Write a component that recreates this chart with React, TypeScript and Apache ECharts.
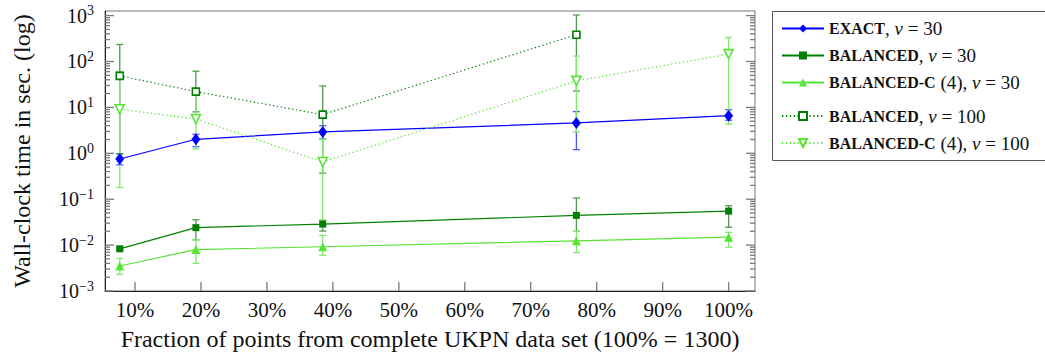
import React, { useEffect, useRef } from "react";
import * as echarts from "echarts";

// Fraction of points (% of 1300)
const xPct = [7.69, 19.23, 38.46, 76.92, 100];
const xTicks = [10, 20, 30, 40, 50, 60, 70, 80, 90, 100];

// EXACT, v = 30
const exact30 = [0.75, 2.02, 2.92, 4.58, 6.6];
const exact30Lo = [0.56, 1.39, 2.05, 1.2, 5.25];
const exact30Hi = [0.97, 2.6, 4.0, 8.1, 8.9];

// BALANCED, v = 30
const bal30 = [0.0083, 0.024, 0.0287, 0.0444, 0.055];
const bal30Lo = [0.0078, 0.013, 0.0202, 0.0199, 0.0245];
const bal30Hi = [0.0089, 0.0356, 0.0346, 0.106, 0.072];

// BALANCED-C (4), v = 30
const balc30 = [0.0035, 0.008, 0.0092, 0.0124, 0.0149];
const balc30Lo = [0.0023, 0.004, 0.006, 0.0069, 0.009];
const balc30Hi = [0.0051, 0.013, 0.0163, 0.0199, 0.019];

// BALANCED, v = 100 (no value at 100%)
const bal100 = [48.6, 22.1, 6.96, 383];
const bal100Lo = [0.97, 8.0, 0.37, 22.8];
const bal100Hi = [235, 61.5, 29.3, 1030];

// BALANCED-C (4), v = 100
const balc100 = [9.1, 5.6, 0.646, 37.8, 145];
const balc100Lo = [0.18, 1.24, 0.035, 2.9, 4.3];
const balc100Hi = [60, 20, 2.0, 131, 333];

// Y axis decades (log scale)
const yDecades = [-3, -2, -1, 0, 1, 2, 3];
const yMinExp = -3;
const yMaxExp = 3.1;

const BLUE = "#0000ff";
const DGREEN = "#008000";
const LGREEN = "#55e535";
const TICK = "#7a7a7a";

const FONT = "Liberation Serif";

const legendLabels: Record<string, [string, string]> = {
  exact30: ["EXACT", "30"],
  bal30: ["BALANCED", "30"],
  balc30: ["BALANCED-C", "30"],
  bal100: ["BALANCED", "100"],
  balc100: ["BALANCED-C", "100"],
};

function legendFormatter(name: string) {
  const [sc, v] = legendLabels[name];
  const four = sc === "BALANCED-C" ? "{n| (4)}" : "";
  return `{sc|${sc}}${four}{n|, }{i|v}{n| = ${v}}`;
}

function errSeries(name: string, vals: number[], lo: number[], hi: number[], color: string) {
  const data = vals.map((_, i) => [xPct[i], lo[i], hi[i]]);
  return {
    type: "custom",
    name,
    data,
    encode: { x: 0, y: [1, 2] },
    silent: true,
    clip: false,
    renderItem: (_params: any, api: any) => {
      const x = api.value(0);
      const pLo = api.coord([x, api.value(1)]);
      const pHi = api.coord([x, api.value(2)]);
      const w = 3.5;
      const st = { stroke: color, lineWidth: 1.3 };
      return {
        type: "group",
        children: [
          { type: "line", shape: { x1: pLo[0], y1: pLo[1], x2: pHi[0], y2: pHi[1] }, style: st },
          { type: "line", shape: { x1: pLo[0] - w, y1: pLo[1], x2: pLo[0] + w, y2: pLo[1] }, style: st },
          { type: "line", shape: { x1: pHi[0] - w, y1: pHi[1], x2: pHi[0] + w, y2: pHi[1] }, style: st },
        ],
      };
    },
  };
}

function lineSeries(name: string, vals: number[], color: string, opts: any) {
  return {
    type: "line",
    name,
    data: vals.map((v, i) => [xPct[i], v]),
    lineStyle: { color, width: 1.2, type: opts.dash ? [1.3, 2.6] : "solid" },
    itemStyle: opts.open
      ? { color: "#ffffff", borderColor: color, borderWidth: 1.6 }
      : { color, borderColor: color, borderWidth: 0 },
    symbol: opts.symbol,
    symbolSize: opts.size,
    symbolRotate: opts.rotate || 0,
    showAllSymbol: true,
    z: 3,
  };
}

// y tick values: [value, tick length]
const yTickData: number[][] = [];
for (const e of yDecades) {
  yTickData.push([Math.pow(10, e), 9]);
  for (let k = 2; k <= 9; k++) {
    const v = k * Math.pow(10, e);
    if (Math.log10(v) < yMaxExp) yTickData.push([v, 5]);
  }
}

function supLabel(val: number) {
  const l = Math.log10(val);
  const e = Math.round(l);
  if (Math.abs(l - e) > 1e-6) return "";
  const es = e < 0 ? "\u2212" + Math.abs(e) : String(e);
  return `{b|10}{s|${es}}`;
}

export default function App() {
  const ref = useRef<HTMLDivElement>(null);
  useEffect(() => {
    const chart = echarts.init(ref.current!, null, { renderer: "svg" });
    const legendCommon = {
      orient: "vertical",
      left: 781,
      padding: 0,
      itemWidth: 42,
      itemHeight: 10,
      itemGap: 8,
      selectedMode: false,
      formatter: legendFormatter,
      textStyle: {
        fontFamily: FONT,
        color: "#111",
        rich: {
          sc: { fontFamily: FONT, fontSize: 16, fontWeight: "bold", lineHeight: 20, color: "#111" },
          n: { fontFamily: FONT, fontSize: 19, lineHeight: 20, color: "#111" },
          i: { fontFamily: FONT, fontSize: 19, fontStyle: "italic", lineHeight: 20, color: "#111" },
        },
      },
    };
    const yMinVal = Math.pow(10, yMinExp);
    chart.setOption({
      animation: false,
      textStyle: { fontFamily: FONT },
      grid: {
        left: 105,
        right: 290,
        top: 11,
        bottom: 67,
        show: true,
        borderColor: "#777",
        borderWidth: 1,
        containLabel: false,
        outerBoundsMode: "none",
      },
      xAxis: {
        type: "value",
        min: 5.45,
        max: 104.0,
        name: "Fraction of points from complete UKPN data set (100% = 1300)",
        nameLocation: "middle",
        nameGap: 36,
        nameTextStyle: { fontFamily: FONT, fontSize: 24, color: "#111" },
        axisLine: { show: true, onZero: false, lineStyle: { color: "#222", width: 1 } },
        axisTick: { show: false },
        axisLabel: { customValues: xTicks, formatter: (v: number) => `${v}%`, fontFamily: FONT, fontSize: 21, color: "#111", margin: 8 },
        splitLine: { show: false },
      },
      yAxis: {
        type: "log",
        position: "left",
        min: yMinVal,
        max: Math.pow(10, yMaxExp),
        logBase: 10,
        name: "Wall-clock time in sec. (log)",
        nameLocation: "middle",
        nameRotate: 90,
        nameGap: 71,
        nameTextStyle: { fontFamily: FONT, fontSize: 24, color: "#111" },
        axisLine: { show: true, onZero: false, lineStyle: { color: "#222", width: 1 } },
        axisTick: { show: false },
        axisLabel: {
          formatter: supLabel,
          margin: 11,
          rich: {
            b: { fontFamily: FONT, fontSize: 20, lineHeight: 24, color: "#111" },
            s: { fontFamily: FONT, fontSize: 14, lineHeight: 14, verticalAlign: "top", color: "#111" },
          },
        },
        splitLine: { show: false },
      },
      legend: [
        { ...legendCommon, top: 19, data: ["exact30", "bal30", "balc30"] },
        { ...legendCommon, top: 106.5, data: ["bal100", "balc100"] },
      ],
      graphic: [
        {
          type: "rect",
          shape: { x: 772.5, y: 11.5, width: 300, height: 149 },
          style: { fill: "none", stroke: "#555", lineWidth: 1 },
          silent: true,
        },
      ],
      series: [
        {
          type: "custom",
          name: "xticks",
          silent: true,
          data: xTicks.map((t) => [t, yMinVal]),
          encode: { x: 0, y: 1 },
          z: 1,
          clip: false,
          renderItem: (params: any, api: any) => {
            const cs = params.coordSys;
            const p = api.coord([api.value(0), api.value(1)]);
            const yb = cs.y + cs.height;
            return { type: "line", shape: { x1: p[0], y1: yb, x2: p[0], y2: yb - 9 }, style: { stroke: TICK, lineWidth: 1.3 } };
          },
        },
        {
          type: "custom",
          name: "yticks",
          silent: true,
          data: yTickData.map(([v, len]) => [xTicks[0], v, len]),
          encode: { x: 0, y: 1 },
          z: 1,
          clip: false,
          renderItem: (params: any, api: any) => {
            const cs = params.coordSys;
            const p = api.coord([api.value(0), api.value(1)]);
            const len = api.value(2);
            const st = { stroke: TICK, lineWidth: 1.3 };
            const xl = cs.x;
            const xr = cs.x + cs.width;
            return {
              type: "group",
              children: [
                { type: "line", shape: { x1: xl, y1: p[1], x2: xl + len, y2: p[1] }, style: st },
                { type: "line", shape: { x1: xr - len, y1: p[1], x2: xr, y2: p[1] }, style: st },
              ],
            };
          },
        },
        errSeries("e_exact30", exact30, exact30Lo, exact30Hi, "#5050ff"),
        lineSeries("exact30", exact30, BLUE, { symbol: "diamond", size: [9, 12] }),
        errSeries("e_bal30", bal30, bal30Lo, bal30Hi, "#4f9a4f"),
        lineSeries("bal30", bal30, DGREEN, { symbol: "rect", size: 7 }),
        errSeries("e_balc30", balc30, balc30Lo, balc30Hi, "#80ea6c"),
        lineSeries("balc30", balc30, LGREEN, { symbol: "triangle", size: 9 }),
        errSeries("e_bal100", bal100, bal100Lo, bal100Hi, "#4f9a4f"),
        lineSeries("bal100", bal100, DGREEN, { symbol: "rect", size: 7, open: true, dash: true }),
        errSeries("e_balc100", balc100, balc100Lo, balc100Hi, "#80ea6c"),
        lineSeries("balc100", balc100, LGREEN, { symbol: "triangle", size: 9, open: true, dash: true, rotate: 180 }),
      ],
    });
    return () => chart.dispose();
  }, []);
  return (
    <div
      ref={ref}
      style={{ position: "fixed", left: 0, top: 0, width: 1045, height: 358, background: "#fff" }}
    />
  );
}
